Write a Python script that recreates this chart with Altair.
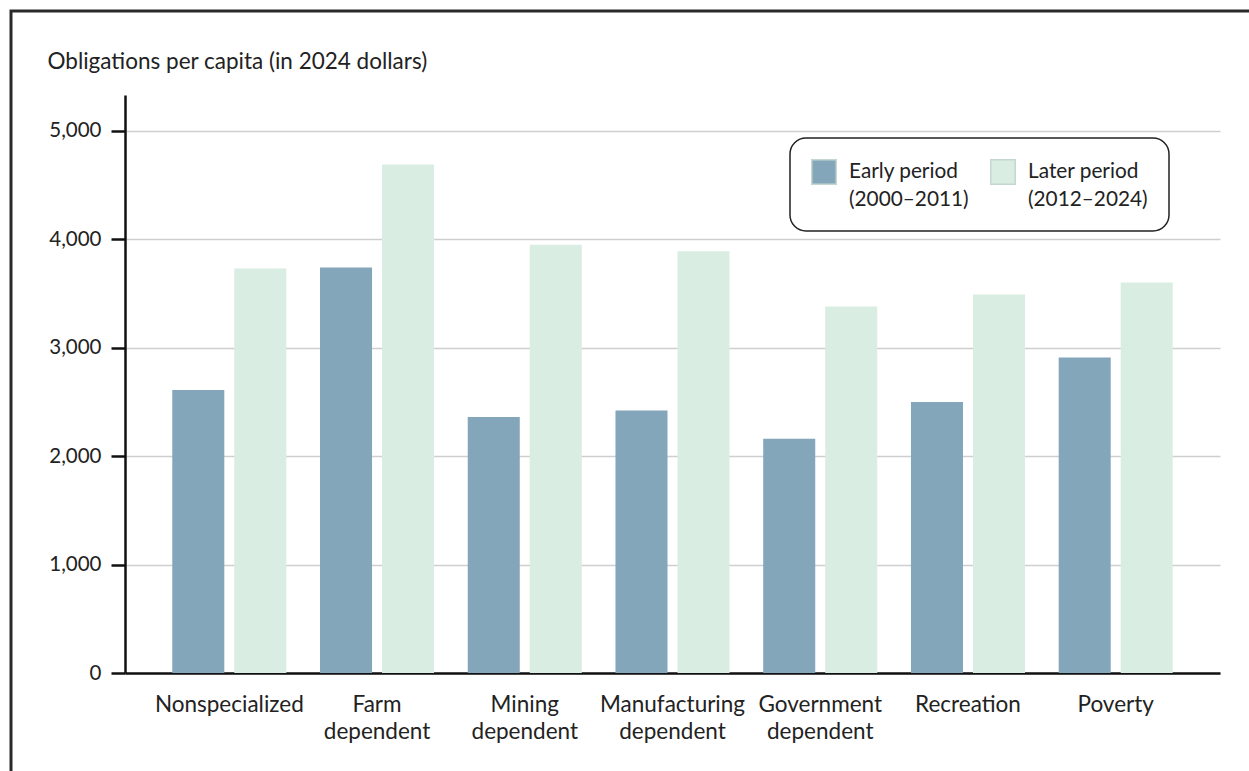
import altair as alt
import pandas as pd

categories = ["Nonspecialized", "Farm dependent", "Mining dependent",
              "Manufacturing dependent", "Government dependent", "Recreation", "Poverty"]
early = [2610, 3740, 2360, 2420, 2160, 2500, 2910]
later = [3730, 4690, 3950, 3890, 3380, 3490, 3600]
periods = ["Early period (2000–2011)", "Later period (2012–2024)"]
colors = ["#84a6ba", "#d9ede3"]
y_ticks = [0, 1000, 2000, 3000, 4000, 5000]

rows = []
for c, e, l in zip(categories, early, later):
    rows.append({"group": c, "period": periods[0], "value": e})
    rows.append({"group": c, "period": periods[1], "value": l})
df = pd.DataFrame(rows)

W, H = 1095, 578
FONT = "Lato"
TXT = "#222222"

legend_expr = ("[slice(datum.label, 0, indexof(datum.label, ' (')), "
               "slice(datum.label, indexof(datum.label, ' (') + 1)]")

bars = alt.Chart(df).mark_bar().encode(
    x=alt.X("group:N", sort=categories,
            scale=alt.Scale(paddingInner=0.228, paddingOuter=0.32),
            axis=alt.Axis(title=None, labelAngle=0, labelExpr="split(datum.label, ' ')",
                          labelFont=FONT, labelFontSize=22.5, labelLineHeight=27,
                          labelColor=TXT, labelPadding=20, labelBaseline="top",
                          ticks=False, domainColor="#111111", domainWidth=2.5,
                          grid=False)),
    xOffset=alt.XOffset("period:N", sort=periods,
                        scale=alt.Scale(paddingInner=0.161, paddingOuter=0)),
    y=alt.Y("value:Q", scale=alt.Scale(domain=[0, 5330], nice=False, zero=True),
            axis=alt.Axis(values=y_ticks, format=",.0f",
                          title="Obligations per capita (in 2024 dollars)",
                          titleAngle=0, titleAlign="left", titleBaseline="alphabetic",
                          titleX=-78, titleY=-27, titleFont=FONT, titleFontSize=22.5,
                          titleFontWeight="normal", titleColor=TXT,
                          labelFont=FONT, labelFontSize=20.5, labelColor=TXT,
                          labelPadding=10, tickSize=14, tickWidth=2.5, tickColor="#111111",
                          domainColor="#111111", domainWidth=2.5,
                          gridColor="#cfcfcf", gridWidth=1.5)),
    color=alt.Color("period:N", sort=periods,
                    scale=alt.Scale(domain=periods, range=colors),
                    legend=alt.Legend(title=None, orient="none", legendX=665, legendY=43,
                                      direction="horizontal", columns=2,
                                      symbolType="square", symbolSize=600,
                                      symbolStrokeColor="#c5d8ce", symbolStrokeWidth=1.5,
                                      symbolOpacity=1,
                                      labelExpr=legend_expr, labelFont=FONT,
                                      labelFontSize=20.8,
                                      labelColor=TXT, labelOffset=12, labelLimit=300,
                                      columnPadding=18, padding=21,
                                      strokeColor="#222222",
                                      cornerRadius=16, fillColor="white")),
)

frame = alt.Chart(pd.DataFrame({"f": [0]})).mark_rect(
    fillOpacity=0, stroke="#2a2a2a", strokeWidth=3
).encode(
    x=alt.value(-114), x2=alt.value(1300), y=alt.value(-84), y2=alt.value(900)
)

chart = alt.layer(bars, frame).properties(
    width=W, height=H,
    autosize=alt.AutoSizeParams(type="none"),
    padding={"left": 125, "top": 95, "right": 29, "bottom": 98},
    background="white",
).configure(
    view=alt.ViewConfig(strokeWidth=0),
    legend=alt.LegendConfig(strokeWidth=1.5),
    style={"guide-label": {"lineHeight": 28}},
)

chart.save("out.html", embed_options={"renderer": "svg", "actions": False})
